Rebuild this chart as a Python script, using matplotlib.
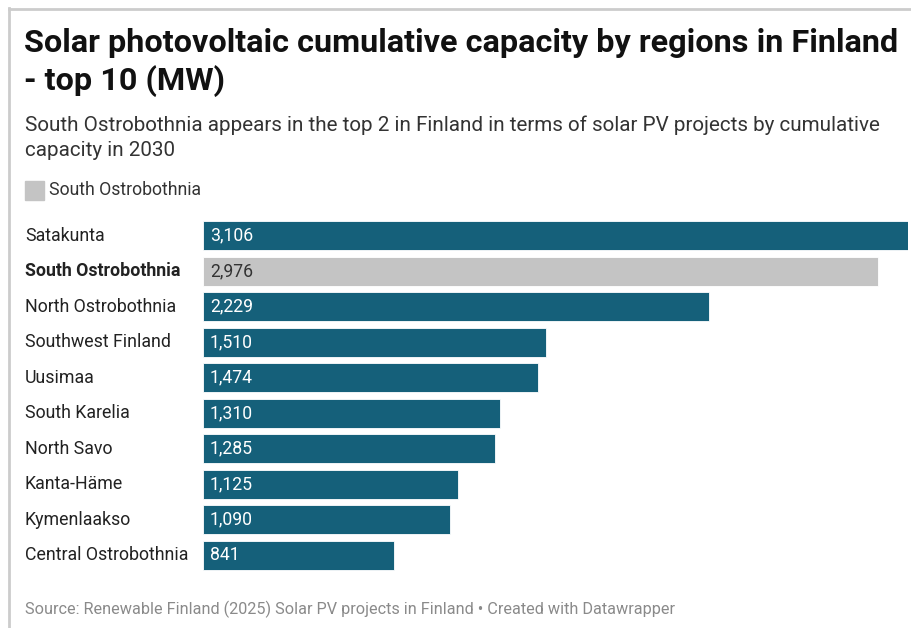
import matplotlib.pyplot as plt
from matplotlib.transforms import blended_transform_factory
from matplotlib.patches import Rectangle
from matplotlib.lines import Line2D

regions = ["Satakunta", "South Ostrobothnia", "North Ostrobothnia", "Southwest Finland",
           "Uusimaa", "South Karelia", "North Savo", "Kanta-Häme", "Kymenlaakso",
           "Central Ostrobothnia"]
capacity_mw = [3106, 2976, 2229, 1510, 1474, 1310, 1285, 1125, 1090, 841]
highlight = "South Ostrobothnia"

W, H = 912, 628
plt.rcParams['font.family'] = ['Roboto', 'DejaVu Sans']

fig = plt.figure(figsize=(W / 100, H / 100), dpi=100)


def fx(px):
    return px / W


def fy(py):
    return 1 - py / H


# card border (left and top)
fig.add_artist(Line2D([fx(9.5), fx(9.5)], [fy(8), 0], color="#cccccc", lw=2))
fig.add_artist(Line2D([fx(9), 1], [fy(8.5), fy(8.5)], color="#cccccc", lw=2))

fig.text(fx(24), fy(43), "Solar photovoltaic cumulative capacity by regions in Finland",
         fontsize=23.3, fontweight="bold", color="#111111", va="center")
fig.text(fx(24), fy(81), "- top 10 (MW)",
         fontsize=23.3, fontweight="bold", color="#111111", va="center")
fig.text(fx(25), fy(125), "South Ostrobothnia appears in the top 2 in Finland in terms of solar PV projects by cumulative",
         fontsize=14.9, color="#333333", va="center")
fig.text(fx(25), fy(151), "capacity in 2030", fontsize=14.9, color="#333333", va="center")

fig.add_artist(Rectangle((fx(25), fy(200)), fx(19), 19 / H, color="#c4c4c4"))
fig.text(fx(49), fy(190), "South Ostrobothnia", fontsize=12.7, color="#333333", va="center")

ax = fig.add_axes([fx(203), fy(573), fx(908) - fx(203), (573 - 218) / H])
ax.set_xlim(0, capacity_mw[0])
ax.set_ylim(len(regions) - 0.5, -0.5)
ax.axis("off")

colors = ["#c4c4c4" if r == highlight else "#15607a" for r in regions]
ax.barh(range(len(regions)), capacity_mw, height=0.82, color=colors, edgecolor="white", linewidth=0.6)

lab_tr = blended_transform_factory(fig.transFigure, ax.transData)
for i, (r, v) in enumerate(zip(regions, capacity_mw)):
    bold = r == highlight
    ax.text(fx(25), i, r, transform=lab_tr, fontsize=12.75, va="center",
            fontweight="bold" if bold else "normal", color="#222222")
    ax.text(fx(210), i, f"{v:,}", transform=lab_tr, fontsize=12.7, va="center",
            color="#333333" if bold else "white")

fig.text(fx(25), fy(609), "Source: Renewable Finland (2025) Solar PV projects in Finland • Created with Datawrapper",
         fontsize=11.7, color="#8a8a8a", va="center")

fig.savefig("out.png", dpi=100)
